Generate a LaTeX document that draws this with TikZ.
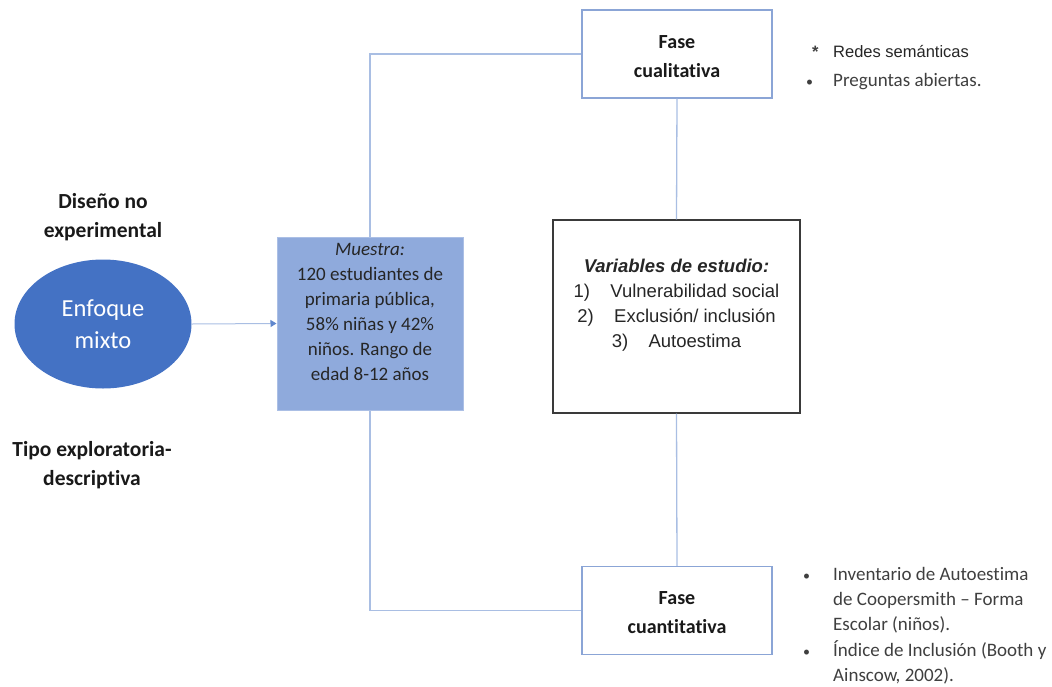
\documentclass[tikz,border=0pt]{standalone}
\usepackage{fontspec}
\setmainfont{Carlito}[Ligatures=NoCommon]
\newfontfamily\arialfont{Liberation Sans}
\usetikzlibrary{positioning, arrows.meta, shapes.geometric}

\definecolor{lineblue}{HTML}{A9BEE3}
\definecolor{muestrablue}{HTML}{8FAADC}
\definecolor{mixtoblue}{HTML}{4472C4}
\definecolor{faseblue}{HTML}{8BA5D6}
\definecolor{boxgray}{HTML}{3A3A3A}
\definecolor{listgray}{HTML}{3F3F3F}
\newcommand{\listdot}{{\fontsize{14}{25}\selectfont •}}

\begin{document}
\begin{tikzpicture}[x=1pt, y=-1pt,
    conn/.style={draw=lineblue, line width=1.3pt},
    fasebox/.style={draw=faseblue, line width=1.3pt, fill=white, minimum width=190pt,
        minimum height=88pt, inner sep=0pt},
    fasetext/.style={align=center, inner sep=0pt, text=black!90,
        font=\fontsize{20}{29}\selectfont\bfseries},
    sidetitle/.style={align=center, text=black!90, font=\fontsize{21.5}{29}\selectfont\bfseries},
    listtext/.style={anchor=north west, inner sep=0pt, text=listgray,
        font=\fontsize{19}{25}\selectfont}]
    \useasboundingbox (0,0) rectangle (1052,686);

    % left column
    \node[sidetitle] (diseno) at (103,217) {Diseño no\\experimental};
    \node[ellipse, fill=mixtoblue, minimum width=177pt, minimum height=129pt,
        align=center, text=white, font=\fontsize{24.5}{32}\selectfont] (mixto) at (103,324) {Enfoque\\mixto};
    \node[sidetitle] (tipo) at (92,465) {Tipo exploratoria-\\descriptiva};

    % sample box
    \node[draw=muestrablue!75!white, line width=1pt, fill=muestrablue,
        minimum width=186pt, minimum height=173pt, inner sep=0pt] (muestra) at (370,323.5) {};
    \node[anchor=north, align=center, inner sep=0pt, text=black!85,
        font=\fontsize{19}{25}\selectfont] (muestratxt) at ([yshift=-7pt]muestra.north)
        {\textit{Muestra:}\\120 estudiantes de\\primaria pública,\\58\% niñas y 42\%\\niños. Rango de\\edad 8-12 años};

    % phases
    \node[fasebox] (cual) at (677,54) {};
    \node[fasetext] (cualtxt) at ([yshift=-3pt]cual.center) {Fase\\cualitativa};
    \node[fasebox] (cuan) at (677,610.5) {};
    \node[fasetext] (cuantxt) at ([yshift=-2pt]cuan.center) {Fase\\cuantitativa};

    % variables
    \node[draw=boxgray, line width=1.4pt, fill=white, minimum width=247pt,
        minimum height=193pt, inner sep=0pt] (vars) at (676.5,316.5) {};
    \node[anchor=north, align=center, inner sep=0pt, text=black!85,
        font=\arialfont\fontsize{18.5}{25}\selectfont] (varstxt) at ([yshift=-40pt]vars.north)
        {\textbf{\textit{Variables de estudio:}}\\
         1)\hspace{1.1em}Vulnerabilidad social\\
         2)\hspace{1.1em}Exclusión/ inclusión\\
         3)\hspace{1.1em}Autoestima};

    % connectors
    \draw[conn, line width=1pt, -{Triangle[length=6pt, width=7pt, color=mixtoblue!85]}] (mixto.east) -- (muestra.west);
    \draw[conn] (cual.west) -| (muestra.north);
    \draw[conn] (cuan.west) -| (muestra.south);
    \draw[conn] (cual.south) -- (vars.north);
    \draw[conn] (vars.south) -- (cuan.north);

    % lists
    \node[listtext] (tecnicas) at (806,39.5) {%
        \begin{tabular}{@{}p{27pt}@{}l@{}}
        \hspace{6pt}{\arialfont\fontsize{16.5}{25}\selectfont\bfseries *} & {\arialfont\fontsize{16.5}{25}\selectfont\color{black!85}Redes semánticas}\\[4.5pt]
        \listdot & Preguntas abiertas.
        \end{tabular}};
    \node[listtext] (instrumentos) at (803,562.5) {%
        \begin{tabular}{@{}p{30pt}@{}l@{}}
        \listdot & Inventario de Autoestima\\
          & de Coopersmith – Forma\\
          & Escolar (niños).\\[1.5pt]
        \listdot & Índice de Inclusión (Booth y\\
          & Ainscow, 2002).
        \end{tabular}};
\end{tikzpicture}
\end{document}
